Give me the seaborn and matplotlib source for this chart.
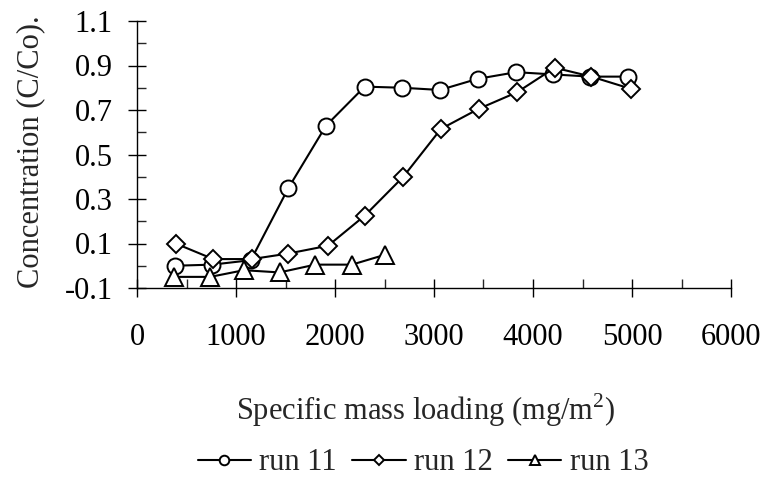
import matplotlib
matplotlib.use("Agg")
import matplotlib.pyplot as plt
import seaborn as sns
import pandas as pd
from matplotlib.ticker import MultipleLocator, FormatStrFormatter

# ---- data ----
run11_x = [380, 760, 1150, 1530, 1910, 2300, 2680, 3060, 3440, 3830, 4200, 4580, 4960]
run11_y = [0.0, 0.005, 0.025, 0.35, 0.63, 0.805, 0.80, 0.79, 0.84, 0.87, 0.86, 0.85, 0.85]
run12_x = [390, 770, 1160, 1530, 1930, 2300, 2690, 3070, 3450, 3840, 4220, 4590, 4990]
run12_y = [0.10, 0.03, 0.03, 0.055, 0.09, 0.225, 0.40, 0.615, 0.705, 0.78, 0.89, 0.85, 0.795]
run13_x = [370, 740, 1080, 1440, 1800, 2170, 2510]
run13_y = [-0.05, -0.05, -0.02, -0.03, 0.005, 0.005, 0.05]
run_labels = ["run 11", "run 12", "run 13"]
y_ticks = [-0.1, 0.1, 0.3, 0.5, 0.7, 0.9, 1.1]
x_ticks = [0, 1000, 2000, 3000, 4000, 5000, 6000]

df = pd.concat([
    pd.DataFrame({"x": run11_x, "y": run11_y, "run": run_labels[0]}),
    pd.DataFrame({"x": run12_x, "y": run12_y, "run": run_labels[1]}),
    pd.DataFrame({"x": run13_x, "y": run13_y, "run": run_labels[2]}),
], ignore_index=True)

sns.set_style("ticks")
plt.rcParams["font.family"] = ["Liberation Serif", "DejaVu Serif"]
plt.rcParams["axes.unicode_minus"] = False
plt.rcParams["mathtext.fontset"] = "custom"
plt.rcParams["mathtext.rm"] = "Liberation Serif"

FS = 22
fig = plt.figure(figsize=(7.65, 4.79), dpi=100)
ax = fig.add_axes([137 / 765, 1 - 288 / 479, 594 / 765, 267 / 479])

sns.lineplot(
    data=df, x="x", y="y", hue="run", style="run",
    palette=["black", "black", "black"],
    markers={"run 11": "o", "run 12": "D", "run 13": "^"},
    dashes=False, errorbar=None, sort=False, legend=False, ax=ax,
    linewidth=1.5, markersize=11.5, markerfacecolor="white",
    markeredgecolor="black", markeredgewidth=1.4, clip_on=False,
)
for ln in ax.get_lines():
    if ln.get_marker() == "D":
        ln.set_markersize(9)
    if ln.get_marker() == "^":
        ln.set_markersize(12.5)

ax.set_xlim(0, 6000)
ax.set_ylim(-0.1, 1.1)
ax.set_xticks(x_ticks)
ax.set_yticks(y_ticks)
ax.xaxis.set_minor_locator(MultipleLocator(500))
ax.yaxis.set_minor_locator(MultipleLocator(0.1))
ax.yaxis.set_major_formatter(FormatStrFormatter("%.1f"))

for s in ["top", "right"]:
    ax.spines[s].set_visible(False)
for s in ["left", "bottom"]:
    ax.spines[s].set_linewidth(1.0)
    ax.spines[s].set_color("black")

ax.tick_params(axis="both", which="major", direction="inout", length=13,
               width=1.0, labelsize=FS, colors="black")
ax.tick_params(axis="both", which="minor", direction="in", length=6.5, width=1.0)
ax.tick_params(axis="x", which="major", pad=19)
ax.tick_params(axis="y", which="major", pad=11)

ax.set_ylabel("Concentration (C/Co).", fontsize=FS)
ax.yaxis.set_label_coords(-0.155, 0.51)
ax.set_xlabel(r"Specific mass loading (mg/m$^{2}$)", fontsize=FS)
ax.xaxis.label.set_va("baseline")
ax.xaxis.set_label_coords(0.4865, (288 - 420) / 267)

lines = ax.get_lines()[:3]
ax.legend(lines, run_labels, loc="center", ncol=3, frameon=False,
          bbox_to_anchor=(0.4815, (288 - 463) / 267), fontsize=FS,
          handlelength=1.75, handletextpad=0.27, columnspacing=0.5,
          markerscale=0.6, numpoints=1, borderaxespad=0, borderpad=0)

fig.savefig("out.png", dpi=100)
